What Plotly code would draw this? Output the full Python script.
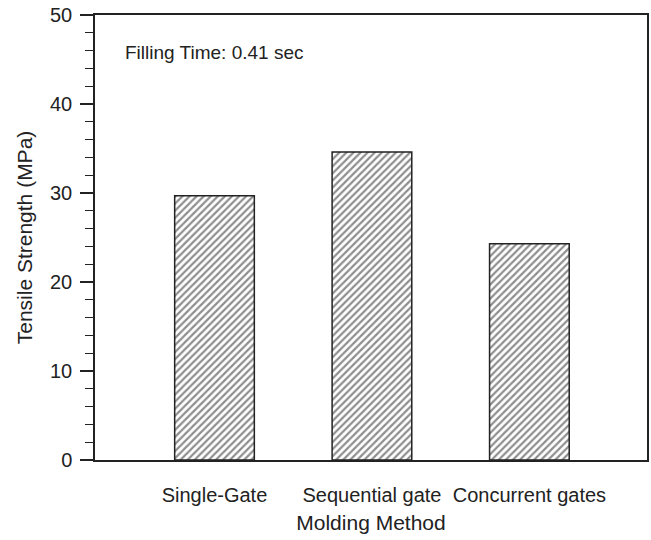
import plotly.graph_objects as go

categories = ["Single-Gate", "Sequential gate", "Concurrent gates"]
tensile_strength = [29.7, 34.6, 24.3]
y_ticks = [0, 10, 20, 30, 40, 50]
annotation_text = "Filling Time: 0.41 sec"

FONT = "Liberation Sans, Arial, sans-serif"

fig = go.Figure()
fig.add_trace(go.Bar(
    x=list(range(len(categories))),
    y=tensile_strength,
    width=0.506,
    marker=dict(
        color="white",
        line=dict(color="#222", width=1.5),
        pattern=dict(shape="/", size=5, solidity=0.45, fgcolor="#1e1e1e", bgcolor="white"),
    ),
    showlegend=False,
))

fig.update_layout(
    width=651, height=540,
    margin=dict(l=95, r=2, t=15, b=80),
    plot_bgcolor="white", paper_bgcolor="white",
    font=dict(family=FONT, size=20, color="#222"),
)
fig.update_xaxes(
    range=[-0.759, 2.747],
    tickmode="array",
    tickvals=list(range(len(categories))),
    ticktext=categories,
    ticks="",
    showline=True, linecolor="#222", linewidth=1.5, mirror=True,
    showgrid=False, zeroline=False,
    tickfont=dict(size=20),
    ticklabelstandoff=16,
    title=dict(text="Molding Method", font=dict(size=21), standoff=11),
)
fig.update_yaxes(
    range=[0, 50],
    tickmode="array", tickvals=y_ticks,
    ticks="outside", ticklen=13, tickwidth=1.5, tickcolor="#222",
    minor=dict(dtick=2, ticks="outside", ticklen=8, tickwidth=1.2, tickcolor="#222"),
    showline=True, linecolor="#222", linewidth=1.5, mirror=True,
    showgrid=False, zeroline=False,
    tickfont=dict(size=20),
    ticklabelstandoff=4,
    title=dict(text="Tensile Strength (MPa)", font=dict(size=21), standoff=12),
)
fig.add_annotation(
    xref="paper", yref="paper", x=0.05, y=0.915,
    xanchor="left", yanchor="middle",
    text=annotation_text, showarrow=False,
    font=dict(size=19, family=FONT, color="#222"),
)

fig.write_html("out.html")
